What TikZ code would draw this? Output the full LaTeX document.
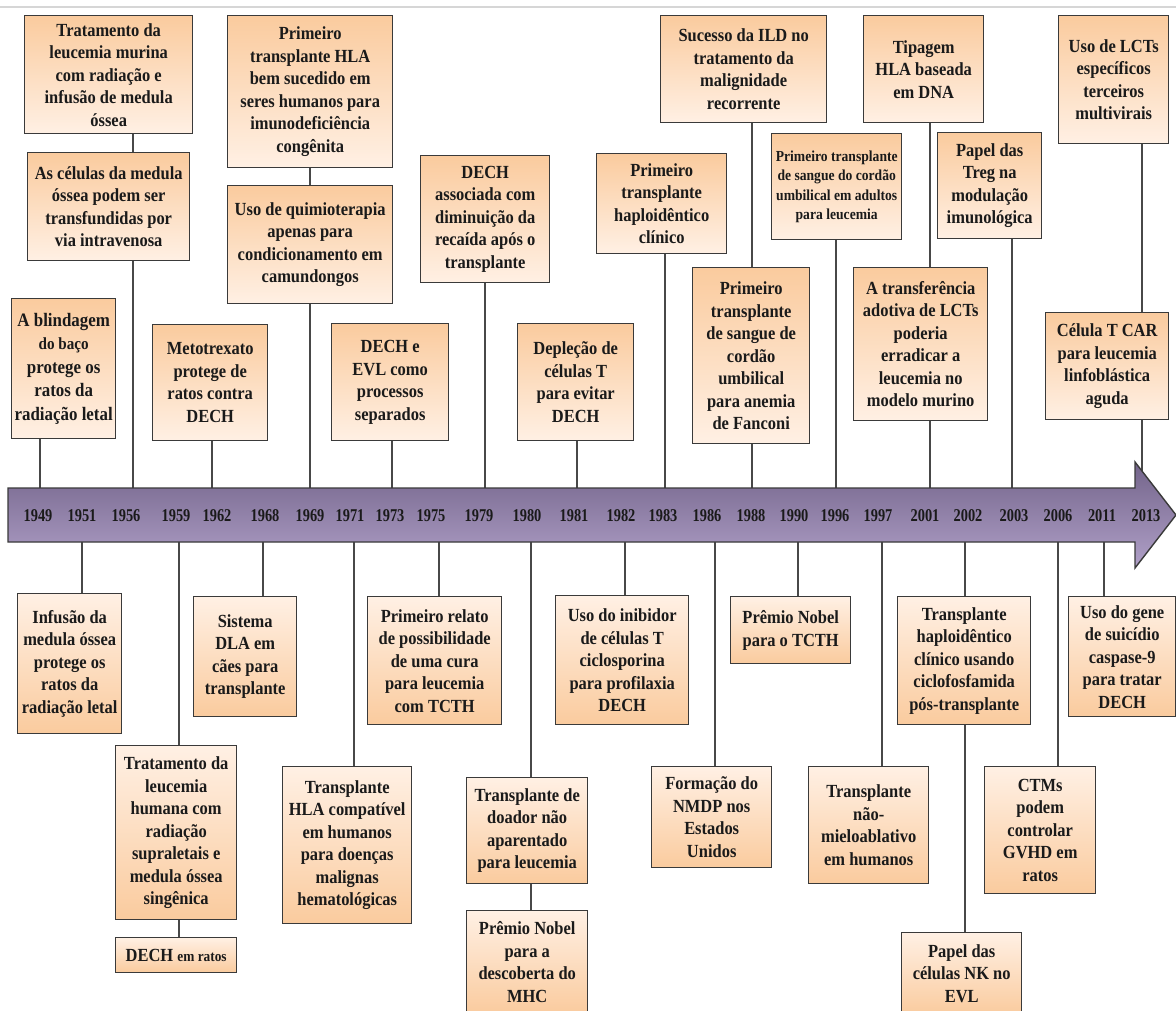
\documentclass[tikz,border=0pt]{standalone}
\usepackage{fontspec}
\setmainfont{Liberation Serif}[FakeStretch=0.89]
\newfontfamily\yearfont{Liberation Serif}[FakeStretch=0.8]
\definecolor{peachdark}{RGB}{250,203,158}
\definecolor{peachlight}{RGB}{255,240,228}
\definecolor{boxline}{RGB}{58,58,58}
\definecolor{connline}{RGB}{72,72,72}
\definecolor{arrowtop}{RGB}{115,100,138}
\definecolor{arrowbot}{RGB}{176,160,200}
\definecolor{inkcol}{RGB}{26,26,26}
\newcommand\boxfnt{\fontsize{18.5}{22.5}\selectfont\bfseries}
\newcommand\smallfnt{\fontsize{15.3}{19.5}\selectfont\bfseries}
\tikzset{
  box/.style={draw=boxline, line width=1.4pt, align=center, inner sep=2pt,
    font=\boxfnt, text=inkcol, anchor=north west},
  up/.style={box, top color=peachdark, bottom color=peachlight},
  down/.style={box, top color=peachlight, bottom color=peachdark},
  conn/.style={draw=connline, line width=1.3pt},
  yearlbl/.style={font=\yearfont\bfseries\fontsize{18}{20}\selectfont, text=inkcol, inner sep=0pt},
}
\begin{document}
\begin{tikzpicture}[x=1pt, y=-1pt]
\useasboundingbox (0,0) rectangle (1176,1011);
\clip (0,0) rectangle (1176,1011);
\fill[white] (0,0) rectangle (1176,1011);
\draw[line width=1.5pt, draw={rgb,255:red,214;green,214;blue,214}] (0,7) -- (1176,7);

% attachment points of the connectors on the time axis
\foreach \yr/\cx in {1949/40, 1951/82, 1956/133, 1959/179, 1962/212, 1968/263,
  1969/310, 1971/354, 1973/392, 1975/439, 1979/485, 1980/531, 1981/577,
  1982/625, 1983/665, 1986/715, 1988/752, 1990/798, 1996/836, 1997/882,
  2001/930, 2002/965, 2003/1012, 2006/1058, 2011/1104, 2013/1142}
  {\coordinate (k\yr) at (\cx,515);}

% events above the axis
\node[up, minimum width=168pt, minimum height=118pt] (T1) at (24,15)
  {Tratamento da\\leucemia murina\\com radiação e\\infusão de medula\\óssea};
\node[up, minimum width=162pt, minimum height=108pt] (T2) at (27,152)
  {As células da medula\\óssea podem ser\\transfundidas por\\via intravenosa};
\node[up, minimum width=104pt, minimum height=140pt, inner xsep=1pt,
  font=\fontsize{19}{23.5}\selectfont\bfseries] (T3) at (11,298)
  {A blindagem\\{\fontsize{17}{23.5}\selectfont do baço}\\protege os\\ratos da\\radiação letal};
\node[up, minimum width=165pt, minimum height=152pt] (T4) at (227,15)
  {Primeiro\\transplante HLA\\bem sucedido em\\seres humanos para\\imunodeficiência\\congênita};
\node[up, minimum width=165pt, minimum height=118pt] (T5) at (227,185)
  {Uso de quimioterapia\\apenas para\\condicionamento em\\camundongos};
\node[up, minimum width=115pt, minimum height=116pt] (T6) at (152,324)
  {Metotrexato\\protege de\\ratos contra\\DECH};
\node[up, minimum width=117pt, minimum height=117pt] (T7) at (331,323)
  {DECH e\\EVL como\\processos\\separados};
\node[up, minimum width=129pt, minimum height=127pt] (T8) at (420,155)
  {DECH\\associada com\\diminuição da\\recaída após o\\transplante};
\node[up, minimum width=116pt, minimum height=117pt] (T9) at (517,323)
  {Depleção de\\células T\\para evitar\\DECH};
\node[up, minimum width=130pt, minimum height=100pt] (T10) at (596,153)
  {Primeiro\\transplante\\haploidêntico\\clínico};
\node[up, minimum width=166pt, minimum height=107pt] (T11) at (660,15)
  {Sucesso da ILD no\\tratamento da\\malignidade\\recorrente};
\node[up, minimum width=117pt, minimum height=176pt] (T12) at (692,267)
  {Primeiro\\transplante\\de sangue de\\cordão\\umbilical\\para anemia\\de Fanconi};
\node[up, minimum width=130pt, minimum height=106pt, inner xsep=1pt, font=\smallfnt] (T13) at (771,133)
  {Primeiro transplante\\de sangue do cordão\\umbilical em adultos\\para leucemia};
\node[up, minimum width=120pt, minimum height=107pt] (T14) at (863,15)
  {Tipagem\\HLA baseada\\em DNA};
\node[up, minimum width=134pt, minimum height=153pt] (T15) at (853,267)
  {A transferência\\adotiva de LCTs\\poderia\\erradicar a\\leucemia no\\modelo murino};
\node[up, minimum width=104pt, minimum height=106pt] (T16) at (937,132)
  {Papel das\\Treg na\\modulação\\imunológica};
\node[up, minimum width=110pt, minimum height=128pt] (T17) at (1058,15)
  {Uso de LCTs\\específicos\\terceiros\\multivirais};
\node[up, minimum width=123pt, minimum height=107pt] (T18) at (1045,312)
  {Célula T CAR\\para leucemia\\linfoblástica\\aguda};

% events below the axis
\node[down, minimum width=104pt, minimum height=140pt] (B1) at (17,593)
  {Infusão da\\medula óssea\\protege os\\ratos da\\radiação letal};
\node[down, minimum width=121pt, minimum height=174pt] (B2) at (115,745)
  {Tratamento da\\leucemia\\humana com\\radiação\\supraletais e\\medula óssea\\singênica};
\node[down, minimum width=121pt, minimum height=35pt] (B3) at (115,937)
  {DECH {\fontsize{15}{18}\selectfont em ratos}};
\node[down, minimum width=103pt, minimum height=120pt] (B4) at (193,596)
  {Sistema\\DLA em\\cães para\\transplante};
\node[down, minimum width=129pt, minimum height=157pt] (B5) at (282,766)
  {Transplante\\HLA compatível\\em humanos\\para doenças\\malignas\\hematológicas};
\node[down, minimum width=134pt, minimum height=128pt] (B6) at (367,596)
  {Primeiro relato\\de possibilidade\\de uma cura\\para leucemia\\com TCTH};
\node[down, minimum width=121pt, minimum height=106pt] (B7) at (466,777)
  {Transplante de\\doador não\\aparentado\\para leucemia};
\node[down, minimum width=121pt, minimum height=103pt] (B8) at (466,910)
  {Prêmio Nobel\\para a\\descoberta do\\MHC};
\node[down, minimum width=133pt, minimum height=129pt] (B9) at (555,595)
  {Uso do inibidor\\de células T\\ciclosporina\\para profilaxia\\DECH};
\node[down, minimum width=120pt, minimum height=101pt] (B10) at (651,766)
  {Formação do\\NMDP nos\\Estados\\Unidos};
\node[down, minimum width=120pt, minimum height=67pt] (B11) at (730,596)
  {Prêmio Nobel\\para o TCTH};
\node[down, minimum width=120pt, minimum height=117pt] (B12) at (808,766)
  {Transplante\\não-\\mieloablativo\\em humanos};
\node[down, minimum width=133pt, minimum height=128pt] (B13) at (897,596)
  {Transplante\\haploidêntico\\clínico usando\\ciclofosfamida\\pós-transplante};
\node[down, minimum width=120pt, minimum height=82pt] (B14) at (901,932)
  {Papel das\\células NK no\\EVL};
\node[down, minimum width=111pt, minimum height=127pt] (B15) at (984,766)
  {CTMs\\podem\\controlar\\GVHD em\\ratos};
\node[down, minimum width=107pt, minimum height=120pt] (B16) at (1068,596)
  {Uso do gene\\de suicídio\\caspase-9\\para tratar\\DECH};

% connectors above the axis
\draw[conn] (T1.south -| k1956) -- (T2.north -| k1956);
\draw[conn] (T2.south -| k1956) -- (k1956);
\draw[conn] (T3.south -| k1949) -- (k1949);
\draw[conn] (T4.south -| k1969) -- (T5.north -| k1969);
\draw[conn] (T5.south -| k1969) -- (k1969);
\draw[conn] (T6.south -| k1962) -- (k1962);
\draw[conn] (T7.south -| k1973) -- (k1973);
\draw[conn] (T8.south -| k1979) -- (k1979);
\draw[conn] (T9.south -| k1981) -- (k1981);
\draw[conn] (T10.south -| k1983) -- (k1983);
\draw[conn] (T11.south -| k1988) -- (T12.north -| k1988);
\draw[conn] (T12.south -| k1988) -- (k1988);
\draw[conn] (T13.south -| k1996) -- (k1996);
\draw[conn] (T14.south -| k2001) -- (T15.north -| k2001);
\draw[conn] (T15.south -| k2001) -- (k2001);
\draw[conn] (T16.south -| k2003) -- (k2003);
\draw[conn] (T17.south -| k2013) -- (T18.north -| k2013);
\draw[conn] (T18.south -| k2013) -- (k2013);

% connectors below the axis
\draw[conn] (k1951) -- (k1951 |- B1.north);
\draw[conn] (k1959) -- (k1959 |- B2.north);
\draw[conn] (B2.south -| k1959) -- (B3.north -| k1959);
\draw[conn] (k1968) -- (k1968 |- B4.north);
\draw[conn] (k1971) -- (k1971 |- B5.north);
\draw[conn] (k1975) -- (k1975 |- B6.north);
\draw[conn] (k1980) -- (k1980 |- B7.north);
\draw[conn] (B7.south -| k1980) -- (B8.north -| k1980);
\draw[conn] (k1982) -- (k1982 |- B9.north);
\draw[conn] (k1986) -- (k1986 |- B10.north);
\draw[conn] (k1990) -- (k1990 |- B11.north);
\draw[conn] (k1997) -- (k1997 |- B12.north);
\draw[conn] (k2002) -- (k2002 |- B13.north);
\draw[conn] (B13.south -| k2002) -- (B14.north -| k2002);
\draw[conn] (k2006) -- (k2006 |- B15.north);
\draw[conn] (k2011) -- (k2011 |- B16.north);

% the time axis
\path[draw=boxline, line width=1.4pt, top color=arrowtop, bottom color=arrowbot, line join=miter]
  (8,488) -- (1135,488) -- (1135,462) -- (1176,515) -- (1135,568) -- (1135,542) -- (8,542) -- cycle;

\foreach \yr/\tx in {1949/38, 1951/82, 1956/126, 1959/176, 1962/217, 1968/265,
  1969/310, 1971/350, 1973/390, 1975/431, 1979/479, 1980/527, 1981/574,
  1982/621, 1983/663, 1986/707, 1988/751, 1990/794, 1996/835, 1997/878,
  2001/925, 2002/968, 2003/1014, 2006/1058, 2011/1102, 2013/1146}
  {\node[yearlbl] (y\yr) at (\tx,516) {\yr};}
\end{tikzpicture}
\end{document}
